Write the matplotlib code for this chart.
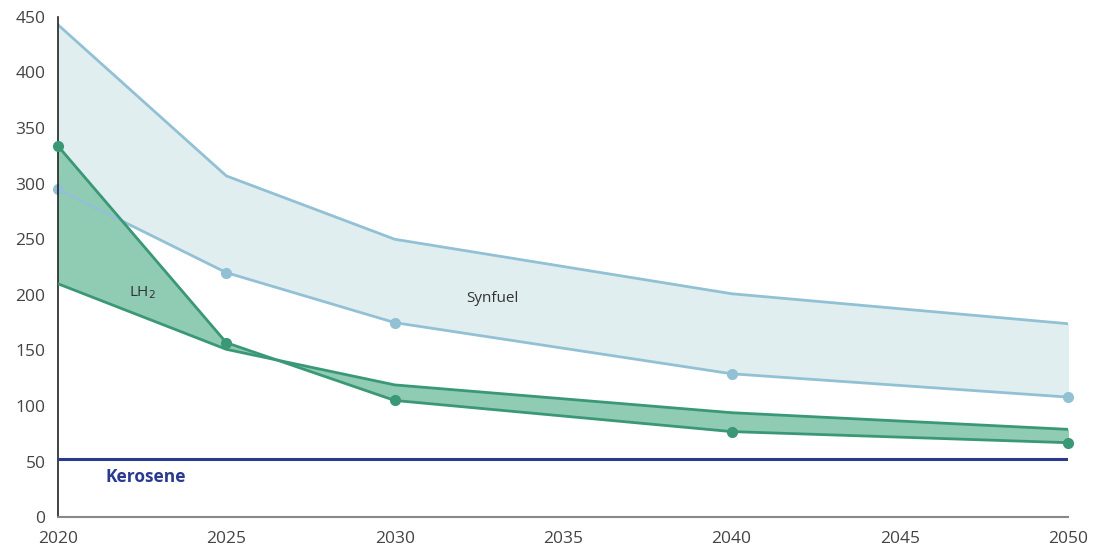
import matplotlib
matplotlib.use("Agg")
import matplotlib.pyplot as plt

plt.rcParams['font.family'] = ['Open Sans', 'DejaVu Sans']

years = [2020, 2025, 2030, 2040, 2050]
synfuel_high = [443, 307, 250, 201, 174]
synfuel_low = [295, 220, 175, 129, 108]
lh2_a = [334, 157, 105, 77, 67]
lh2_b = [210, 151, 119, 94, 79]
kerosene = [52, 52, 52, 52, 52]

x_ticks = [2020, 2025, 2030, 2035, 2040, 2045, 2050]
y_ticks = [0, 50, 100, 150, 200, 250, 300, 350, 400, 450]

fig = plt.figure(figsize=(11.13, 5.45), dpi=100)
ax = fig.add_axes([0.052, 0.051, 0.908, 0.918])

syn_line = '#92c1d5'
syn_fill = '#e1eef0'
lh2_line = '#3a9877'
lh2_fill = '#90cbb4'
ker_col = '#2a3a8f'

ax.fill_between(years, synfuel_low, synfuel_high, color=syn_fill, zorder=1, lw=0)
ax.fill_between(years, lh2_b, lh2_a, color=lh2_fill, zorder=1.5, lw=0)
ax.plot(years, synfuel_high, color=syn_line, lw=2, zorder=2)
ax.plot(years, synfuel_low, color=syn_line, lw=2, zorder=2, marker='o', ms=7, clip_on=False)

ax.plot(years, lh2_b, color=lh2_line, lw=2, zorder=4)
ax.plot(years, lh2_a, color=lh2_line, lw=2, zorder=4, marker='o', ms=7, clip_on=False)

ax.plot(years, kerosene, color=ker_col, lw=2.2, zorder=5)

ax.text(2022.5, 202, 'LH$_2$', fontsize=11, color='#333333', ha='center', va='center')
ax.text(2032.9, 197, 'Synfuel', fontsize=11, color='#333333', ha='center', va='center')
ax.text(2022.6, 36, 'Kerosene', fontsize=12.5, color=ker_col, fontweight='bold', ha='center', va='center')

ax.set_xlim(2020, 2050)
ax.set_ylim(0, 450)
ax.set_xticks(x_ticks)
ax.set_yticks(y_ticks)
ax.tick_params(length=0, labelsize=12.5, labelcolor='#444444')
ax.tick_params(axis='y', pad=9)
ax.tick_params(axis='x', pad=10)
for s in ['top', 'right']:
    ax.spines[s].set_visible(False)
ax.spines['left'].set_color('#222222')
ax.spines['bottom'].set_color('#888888')
ax.spines['left'].set_linewidth(1.2)
ax.spines['bottom'].set_linewidth(1.5)

fig.savefig('out.png', dpi=100, facecolor='white')
